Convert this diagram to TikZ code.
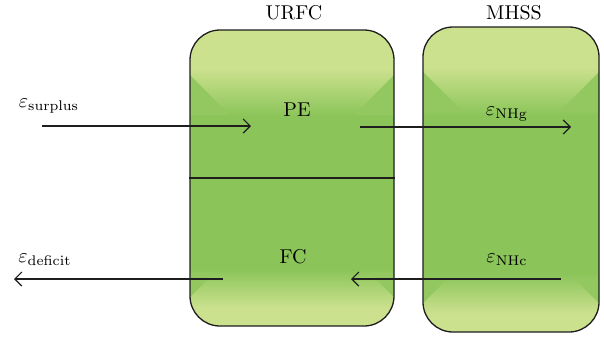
\documentclass[tikz,border=0pt]{standalone}
\usetikzlibrary{arrows.meta}

\definecolor{hellgruen}{RGB}{204,225,142}
\definecolor{mittelgruen}{RGB}{139,197,90}
\definecolor{rand}{RGB}{30,30,30}

%Verlauf oben und unten hell, Mitte gruen
\pgfdeclareverticalshading{gruenverlauf}{100bp}{color(0bp)=(hellgruen); color(28bp)=(hellgruen); color(34.5bp)=(mittelgruen); color(60.5bp)=(mittelgruen); color(68.5bp)=(hellgruen); color(100bp)=(hellgruen)}

\tikzset{
	kasten/.style={draw=rand, line width=0.65pt, rounded corners=15pt, shading=gruenverlauf, inner sep=0pt,
		path picture={
			\fill[fase, sharp corners] ([yshift=-22.5pt]path picture bounding box.north west) -- ++(0,-20pt) -- ++(20pt,0) -- cycle;
			\fill[fase, sharp corners] ([yshift=-22.5pt]path picture bounding box.north east) -- ++(0,-20pt) -- ++(-20pt,0) -- cycle;
			\fill[fase, sharp corners] ([yshift=14.5pt]path picture bounding box.south west) -- ++(0,12.5pt) -- ++(12.5pt,0) -- cycle;
			\fill[fase, sharp corners] ([yshift=14.5pt]path picture bounding box.south east) -- ++(0,12.5pt) -- ++(-12.5pt,0) -- cycle;
		}},
	fase/.style={mittelgruen!88!hellgruen},
	pfeil/.style={draw=rand, line width=0.6pt, -{Straight Barb[length=3.5pt,width=7pt]}},
	linie/.style={draw=rand, line width=0.6pt}
}

\begin{document}
\begin{tikzpicture}[x=0.5pt,y=-0.5pt]
	\useasboundingbox (0,0) rectangle (604,339);
%Kästen
	\node (urfc) [kasten, minimum width=102pt, minimum height=148pt] at (292,178) {};
	\node (mhss) [kasten, minimum width=88pt, minimum height=152.5pt] at (511,179.5) {};
	\draw[linie] (urfc.west) -- (urfc.east);
%Beschriftung
	\node (urfctitel) at (294,13) {URFC};
	\node (mhsstitel) at (514,13) {MHSS};
	\node (pe) at (297,110) {PE};
	\node (fc) at (293,257) {FC};
	\node (nhg) at (507,114) {$\varepsilon_{\mathrm{NHg}}$};
	\node (nhc) at (507,260) {$\varepsilon_{\mathrm{NHc}}$};
	\node (surplus) at (49,106) {$\varepsilon_{\mathrm{surplus}}$};
	\node (deficit) at (45,260) {$\varepsilon_{\mathrm{deficit}}$};
%Energiefluss
	\coordinate (surplusanfang) at (42,126);
	\coordinate (peein) at (251,126);
	\coordinate (peaus) at (360,127);
	\coordinate (nhgende) at (571,127);
	\coordinate (nhcanfang) at (561,279);
	\coordinate (fcein) at (351,279);
	\coordinate (fcaus) at (223,279);
	\coordinate (deficitende) at (14,279);
	\draw[pfeil] (surplusanfang) -- (peein);
	\draw[pfeil] (peaus) -- (nhgende);
	\draw[pfeil] (nhcanfang) -- (fcein);
	\draw[pfeil] (fcaus) -- (deficitende);
\end{tikzpicture}
\end{document}
